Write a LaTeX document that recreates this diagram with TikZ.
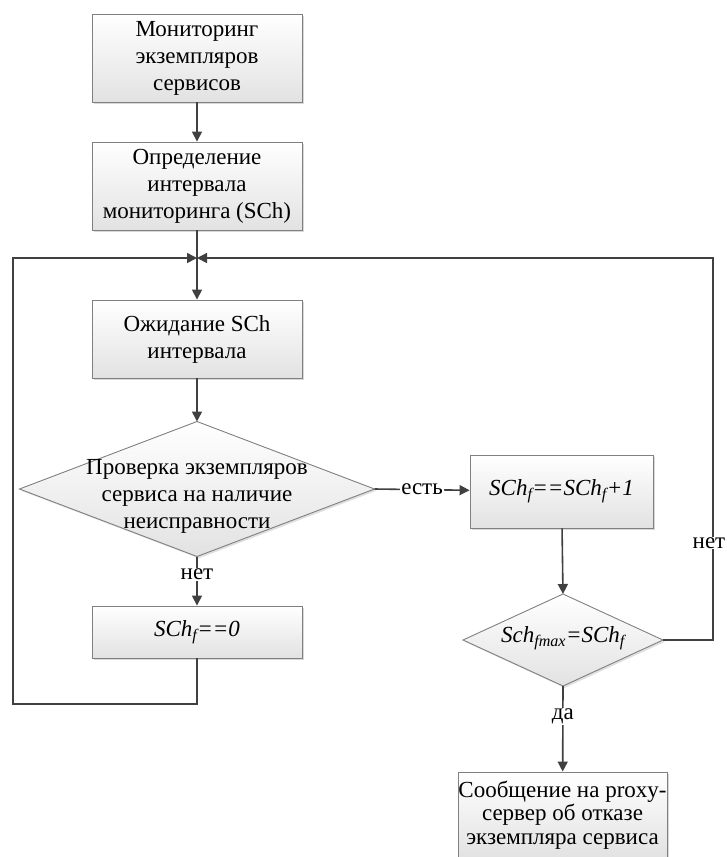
\documentclass[tikz,border=0pt]{standalone}
\usepackage{fontspec}
\setmainfont{Liberation Serif}
\usetikzlibrary{arrows.meta,shadows}
\definecolor{linec}{HTML}{404040}
\definecolor{borderc}{HTML}{808080}
\definecolor{fillb}{HTML}{E2E2E2}
\begin{document}
\begin{tikzpicture}[x=1pt,y=-1pt,
  box/.style={draw=borderc, line width=0.9pt, top color=white, bottom color=fillb,
    drop shadow={shadow xshift=1.8pt, shadow yshift=-1.8pt, opacity=0.3, fill=gray},
    align=center, inner sep=0pt, font=\fontsize{23}{27}\selectfont},
  dia/.style={draw=borderc, line width=0.9pt, top color=white, bottom color=fillb},
  dtext/.style={align=center, inner sep=0pt, font=\fontsize{23}{27}\selectfont},
  conn/.style={draw=linec, line width=1.6pt},
  arr/.style={conn, -{Triangle[length=10pt,width=10pt]}},
  lab/.style={fill=white, inner sep=1pt, font=\fontsize{23}{27}\selectfont, text=black}
]
\useasboundingbox (0,0) rectangle (727,857);
\fill[white] (0,0) rectangle (727,857);

% boxes
\node[box, minimum width=210pt, minimum height=88pt] (b1) at (197,58)
  {Мониторинг\\экземпляров\\сервисов};
\node[box, minimum width=210pt, minimum height=88pt] (b2) at (197,186)
  {Определение\\интервала\\мониторинга (SCh)};
\node[box, minimum width=210pt, minimum height=78pt] (b3) at (197,339)
  {Ожидание SCh\\интервала};
\node[box, minimum width=210pt, minimum height=52pt] (b4) at (197,632)
  {\textit{SCh\textsubscript{f}==0}};
\node[box, minimum width=183pt, minimum height=73pt] (b5) at (561.5,491.5)
  {\textit{SCh\textsubscript{f}==SCh\textsubscript{f}+1}};
\node[box, minimum width=209pt, minimum height=86pt, font=\fontsize{23}{23.5}\selectfont] (b6) at (562.5,815)
  {Сообщение на proxy-\\сервер об отказе\\экземпляра сервиса};

% diamond 1
\coordinate (d1t) at (197,421.5);
\coordinate (d1r) at (374.5,489);
\coordinate (d1b) at (197,556.5);
\coordinate (d1l) at (19.5,489);
\fill[gray, opacity=0.25] ([shift={(1.8,1.8)}]d1t) -- ([shift={(1.8,1.8)}]d1r) -- ([shift={(1.8,1.8)}]d1b) -- ([shift={(1.8,1.8)}]d1l) -- cycle;
\path[dia] (d1t) -- (d1r) -- (d1b) -- (d1l) -- cycle;
\node[dtext] (d1) at (197,496) {Проверка экземпляров\\сервиса на наличие\\неисправности};

% diamond 2
\coordinate (d2t) at (563,594);
\coordinate (d2r) at (663,640);
\coordinate (d2b) at (563,686);
\coordinate (d2l) at (463,640);
\fill[gray, opacity=0.25] ([shift={(1.8,1.8)}]d2t) -- ([shift={(1.8,1.8)}]d2r) -- ([shift={(1.8,1.8)}]d2b) -- ([shift={(1.8,1.8)}]d2l) -- cycle;
\path[dia] (d2t) -- (d2r) -- (d2b) -- (d2l) -- cycle;
\node[dtext] (d2) at (563,638) {\textit{Sch\textsubscript{fmax}=SCh\textsubscript{f}}};

% loop coordinates
\coordinate (j) at (197,258);
\coordinate (lb) at (197,704);
\coordinate (lc) at (13,704);
\coordinate (lt) at (13,258);
\coordinate (rr) at (713,640);
\coordinate (rt) at (713,258);

% connectors
\draw[arr] (b1) -- (b2);
\draw[conn] (b2) -- (j);
\draw[arr] (j) -- (b3);
\draw[arr] (b3) -- (d1t);
\draw[arr] (d1b) -- node[lab, pos=0.37] {нет} (b4);
\draw[arr] (d1r) -- node[lab, pos=0.5] {есть} (b5);
\draw[arr] (b5) -- (d2t);
\draw[arr] (d2b) -- node[lab, pos=0.36] {да} (b6);
\draw[arr] (b4) -- (lb) -- (lc) -- (lt) -- (j);
\draw[arr] (d2r) -- (rr) -- (rt) -- (j);
\node[lab, inner sep=0.5pt] (nr) at (709,543) {нет};
\end{tikzpicture}
\end{document}
